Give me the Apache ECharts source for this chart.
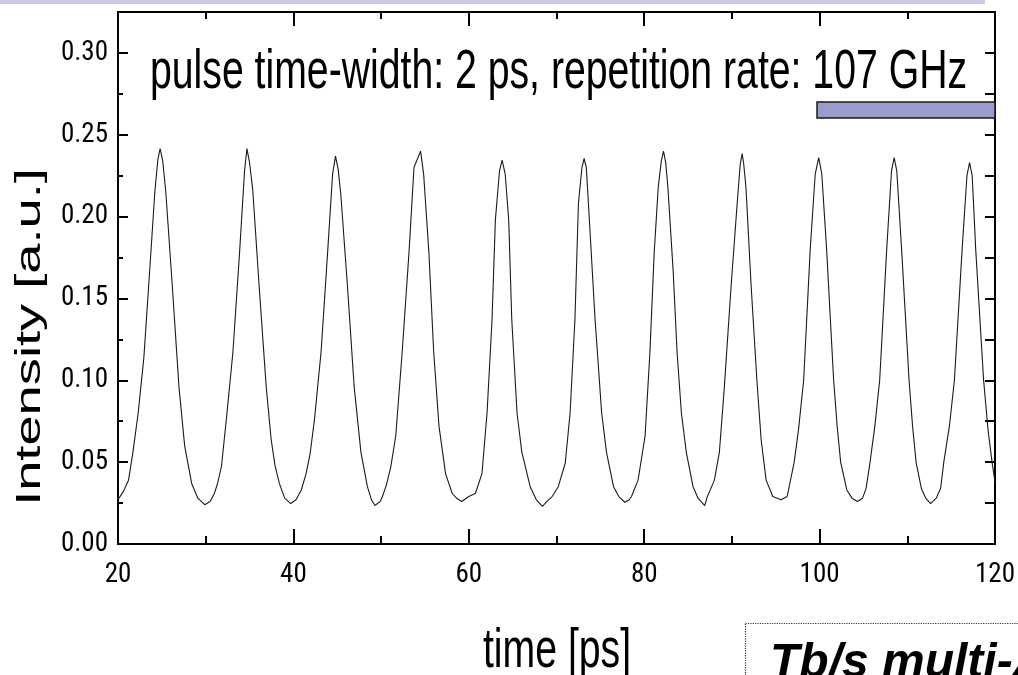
<!DOCTYPE html>
<html>
<head>
<meta charset="utf-8">
<script src="https://cdn.jsdelivr.net/npm/echarts@6/dist/echarts.min.js"></script>
<style>
html,body{margin:0;padding:0;background:#fff;}
#chart{width:1018px;height:675px;}
</style>
</head>
<body>
<div id="chart"></div>
<script>
// ---- data ----
var time = [
 20.0,20.6,21.2,21.7,22.3,22.95,23.6,24.2,24.55,24.8,25.1,25.45,26.2,26.95,27.6,28.4,29.1,29.9,
 30.5,31.0,31.4,31.8,32.35,33.1,33.86,34.43,34.7,35.0,35.37,36.1,36.9,37.46,37.9,38.4,39.0,39.7,
 40.3,40.9,41.45,41.9,42.4,43.15,43.9,44.47,44.8,45.1,45.4,46.17,46.93,47.7,48.44,48.9,49.3,
 49.9,50.15,50.6,51.1,51.67,52.4,53.18,53.75,54.5,54.85,55.45,56.0,56.6,57.35,58.1,58.6,59.2,
 60.0,60.76,61.5,62.08,62.65,63.03,63.5,63.8,64.15,64.55,64.9,65.5,66.05,67.0,67.7,68.4,
 68.9,69.5,70.2,71.0,71.55,72.1,72.5,72.9,73.15,73.4,73.64,74.4,75.15,75.7,76.5,77.1,77.8,
 78.3,78.55,79.3,80.1,80.65,81.14,81.6,81.95,82.2,82.45,82.7,83.3,83.75,84.24,84.8,85.57,86.14,86.9,
 87.2,87.45,88.0,88.57,89.14,89.9,90.6,90.95,91.17,91.35,91.6,92.2,92.85,93.33,93.9,94.66,95.6,
 96.3,97.1,97.6,98.18,98.93,99.5,99.9,100.25,100.8,101.6,102.0,102.4,103.1,103.7,104.3,
 104.9,105.3,105.75,106.3,106.85,107.65,108.2,108.5,108.8,109.35,110.2,110.6,111.0,111.6,112.1,112.65,
 113.3,113.8,114.16,114.8,115.37,116.25,116.8,117.1,117.4,117.8,118.7,119.2,119.66,120.0
];
var intensity = [
 0.027,0.032,0.039,0.056,0.080,0.114,0.166,0.215,0.235,0.2415,0.234,0.215,0.157,0.096,0.060,0.037,0.028,0.024,
 0.026,0.031,0.038,0.0475,0.076,0.117,0.178,0.228,0.2415,0.233,0.216,0.157,0.096,0.064,0.048,0.037,0.028,0.0247,
 0.027,0.033,0.043,0.055,0.076,0.117,0.178,0.226,0.237,0.229,0.214,0.157,0.096,0.056,0.035,0.027,0.0235,
 0.026,0.029,0.036,0.047,0.066,0.117,0.178,0.230,0.240,0.226,0.178,0.117,0.072,0.043,0.031,0.028,0.026,
 0.029,0.031,0.043,0.080,0.137,0.198,0.228,0.2345,0.226,0.198,0.137,0.080,0.056,0.035,0.027,0.023,
 0.026,0.029,0.035,0.0495,0.080,0.137,0.208,0.230,0.2355,0.230,0.208,0.137,0.080,0.056,0.035,0.029,0.0255,
 0.027,0.029,0.039,0.066,0.117,0.178,0.218,0.234,0.240,0.233,0.218,0.167,0.117,0.080,0.056,0.035,0.028,0.0235,
 0.029,0.032,0.039,0.056,0.096,0.157,0.208,0.232,0.2385,0.232,0.218,0.157,0.100,0.064,0.039,0.029,0.027,
 0.029,0.050,0.070,0.100,0.180,0.226,0.236,0.226,0.180,0.100,0.072,0.050,0.033,0.028,0.026,
 0.028,0.034,0.050,0.072,0.100,0.180,0.228,0.236,0.228,0.180,0.100,0.072,0.050,0.034,0.028,0.0247,
 0.028,0.034,0.050,0.072,0.100,0.180,0.225,0.233,0.225,0.180,0.100,0.070,0.050,0.038
];
var xTicks = [20, 40, 60, 80, 100, 120];
var yTicks = [0.00, 0.05, 0.10, 0.15, 0.20, 0.25, 0.30];
var titleText = 'pulse time-width: 2 ps, repetition rate: 107 GHz';
var xName = 'time [ps]';
var yName = 'Intensity [a.u.]';
var boxText = 'Tb/s multi-\u03bb';

var points = time.map(function (t, i) { return [t, intensity[i]]; });

// pick an installed condensed font for tick labels
function hasFont(name) {
  var c = document.createElement('canvas').getContext('2d');
  var test = '0123456789.mmmWWiilQ';
  var found = false;
  ['monospace', 'serif'].forEach(function (b) {
    c.font = '40px ' + b;
    var w0 = c.measureText(test).width;
    c.font = '40px "' + name + '", ' + b;
    var w1 = c.measureText(test).width;
    if (Math.abs(w0 - w1) > 0.5) found = true;
  });
  return found;
}
var candidates = ['Liberation Sans Narrow', 'Arial Narrow', 'Noto Sans Condensed', 'Roboto Condensed', 'Liberation Sans'];
var tickFont = 'sans-serif';
for (var k = 0; k < candidates.length; k++) {
  if (hasFont(candidates[k])) { tickFont = candidates[k]; break; }
}
var tickSize = tickFont === 'Liberation Sans' ? 24 : 27;

var sans = "'Liberation Sans',Arial,sans-serif";
var black = '#000';
var axisLine = { show: true, onZero: false, lineStyle: { color: black, width: 2 } };

var chart = echarts.init(document.getElementById('chart'), null, { renderer: 'canvas' });
chart.setOption({
  animation: false,
  backgroundColor: '#fff',
  grid: { left: 118, right: 18, top: 12, bottom: 131, containLabel: false },
  xAxis: [
    {
      type: 'value', min: xTicks[0], max: xTicks[xTicks.length - 1], interval: 20,
      position: 'bottom',
      axisLine: axisLine,
      axisTick: { show: true, inside: true, length: 15, lineStyle: { color: black, width: 2 } },
      minorTick: { show: true, splitNumber: 2, length: 8, lineStyle: { color: black, width: 2 } },
      splitLine: { show: false },
      axisLabel: { show: true, color: black, fontSize: tickSize, fontFamily: tickFont, margin: 18 }
    },
    {
      type: 'value', min: xTicks[0], max: xTicks[xTicks.length - 1], interval: 20,
      position: 'top',
      axisLine: axisLine,
      axisTick: { show: true, inside: true, length: 14, lineStyle: { color: black, width: 2 } },
      minorTick: { show: true, splitNumber: 2, length: 7, lineStyle: { color: black, width: 2 } },
      splitLine: { show: false },
      axisLabel: { show: false }
    }
  ],
  yAxis: [
    {
      type: 'value', min: 0, max: 0.325, interval: 0.05,
      position: 'left',
      axisLine: axisLine,
      axisTick: { show: true, inside: true, length: 10, lineStyle: { color: black, width: 2 } },
      splitLine: { show: false },
      axisLabel: {
        show: true, color: black, fontSize: tickSize, fontFamily: tickFont, margin: 10,
        showMaxLabel: false,
        formatter: function (v) { return v.toFixed(2); }
      }
    },
    {
      type: 'value', min: 0, max: 0.325, interval: 0.025,
      position: 'left',
      axisLine: { show: false },
      axisTick: { show: true, inside: true, length: 5, lineStyle: { color: black, width: 2 } },
      splitLine: { show: false },
      axisLabel: { show: false }
    },
    {
      type: 'value', min: 0, max: 0.325, interval: 0.025,
      position: 'right',
      axisLine: axisLine,
      axisTick: { show: true, inside: true, length: 10, lineStyle: { color: black, width: 2 } },
      splitLine: { show: false },
      axisLabel: { show: false }
    }
  ],
  series: [
    {
      type: 'line',
      name: 'Intensity',
      xAxisIndex: 0, yAxisIndex: 0,
      data: points,
      showSymbol: false,
      symbol: 'none',
      smooth: false,
      lineStyle: { color: '#1a1a1a', width: 1.1 },
      z: 3
    }
  ],
  graphic: [
    { type: 'rect', shape: { x: 0, y: 0, width: 985, height: 4 }, style: { fill: '#c9c9e8' }, z: 1 },
    { type: 'rect', shape: { x: 817, y: 102, width: 178, height: 16 }, style: { fill: '#9b9bcc', stroke: '#1a1a1a', lineWidth: 1.5 }, z: 10 },
    { type: 'text', x: 150, y: 73, scaleX: 0.70, style: { text: titleText, font: "56px " + sans, fill: black, textAlign: 'left', textVerticalAlign: 'middle' }, z: 10 },
    { type: 'text', x: 557, y: 652, scaleX: 0.70, style: { text: xName, font: "56px " + sans, fill: black, textAlign: 'center', textVerticalAlign: 'middle' }, z: 10 },
    { type: 'text', x: 30, y: 337, rotation: Math.PI / 2, scaleX: 1.55, style: { text: yName, font: "35px " + sans, fill: black, textAlign: 'center', textVerticalAlign: 'middle' }, z: 10 },
    { type: 'rect', shape: { x: 745.5, y: 623.5, width: 300, height: 80 }, style: { fill: '#fff', stroke: '#333', lineWidth: 1.2, lineDash: [1.2, 1.2] }, z: 9 },
    { type: 'text', x: 770, y: 640, style: { text: boxText, font: "italic bold 48px " + sans, fill: black, textAlign: 'left', textVerticalAlign: 'top' }, z: 10 }
  ]
});
</script>
</body>
</html>
